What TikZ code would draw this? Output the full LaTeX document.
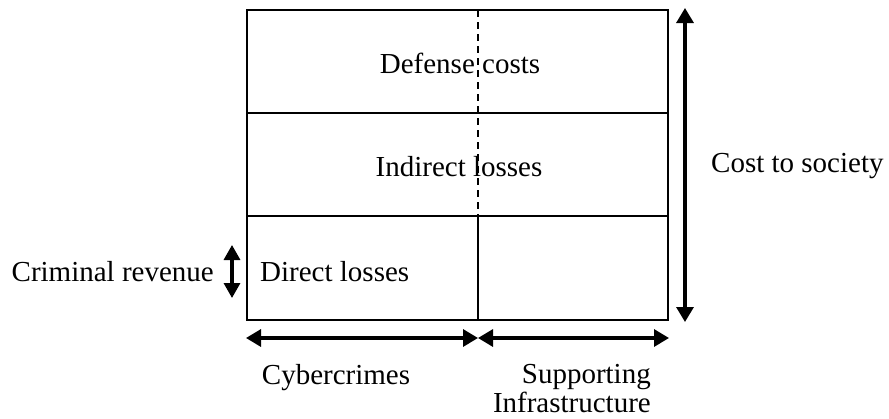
\documentclass[tikz,border=0pt]{standalone}
\usepackage{fontspec}
\setmainfont{Liberation Serif}
\usetikzlibrary{arrows.meta}
\begin{document}
\begin{tikzpicture}[x=1pt,y=-1pt,
  lbl/.style={inner sep=0pt,font=\fontsize{29}{33}\selectfont},
  outer/.style={line width=2pt},
  inner/.style={line width=1.3pt},
  dbl/.style={line width=3.2pt,{Triangle[length=15pt,width=17pt]}-{Triangle[length=15pt,width=17pt]}}]
\useasboundingbox (0,0) rectangle (889,418);
\coordinate (TL) at (247,10);
\coordinate (BR) at (668,320);
\coordinate (ML) at (247,113);
\coordinate (MR) at (668,113);
\coordinate (LL) at (247,216);
\coordinate (LR) at (668,216);
\coordinate (DT) at (478,10);
\coordinate (DM) at (478,216);
\coordinate (DB) at (478,320);
\draw[outer] (TL) rectangle (BR);
\draw[inner] (ML) -- (MR);
\draw[inner] (LL) -- (LR);
\draw[inner,dash pattern=on 7pt off 5pt] (DT) -- (DM);
\draw[inner] (DM) -- (DB);
\node[lbl] (def) at (460,63) {Defense costs};
\node[lbl] (ind) at (459,167) {Indirect losses};
\node[lbl,anchor=west] (dir) at (260,272) {Direct losses};
\node[lbl,anchor=east] (crim) at (214,272) {Criminal revenue};
\node[lbl,anchor=west] (cost) at (711,166) {Cost to society};
\node[lbl] (cyb) at (336,378) {Cybercrimes};
\node[lbl,anchor=north east,align=right] (sup) at (651,364) {Supporting\\[-4pt]Infrastructure};
\coordinate (RA1) at (685,8);
\coordinate (RA2) at (685,322);
\draw[dbl] (RA1) -- (RA2);
\coordinate (CA1) at (232,245);
\coordinate (CA2) at (232,298);
\draw[line width=3.2pt,{Triangle[length=15pt,width=16pt]}-{Triangle[length=15pt,width=16pt]}] (CA1) -- (CA2);
\coordinate (BA1) at (246,338);
\coordinate (BA2) at (478,338);
\coordinate (BA3) at (669,338);
\draw[dbl] (BA1) -- (BA2);
\draw[dbl] (BA2) -- (BA3);
\end{tikzpicture}
\end{document}
